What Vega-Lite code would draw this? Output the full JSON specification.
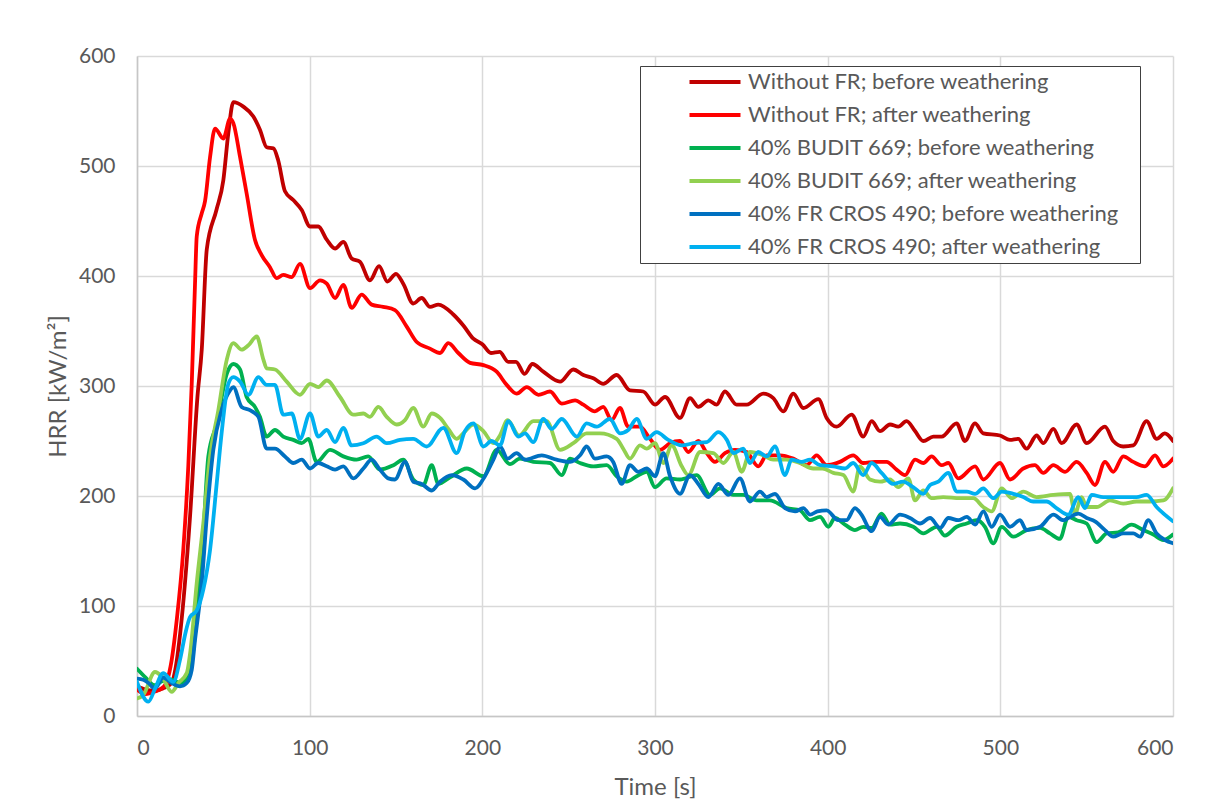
{
  "$schema": "https://vega.github.io/schema/vega-lite/v6.json",
  "width": 1036,
  "height": 660,
  "autosize": {"type": "none"},
  "padding": {"left": 137, "top": 56, "right": 33, "bottom": 88},
  "background": "white",
  "config": {
    "font": "Lato",
    "view": {"stroke": null},
    "axis": {
      "grid": true,
      "gridColor": "#d9d9d9",
      "gridWidth": 1.5,
      "domainColor": "#c6c6c6",
      "domainWidth": 1.5,
      "ticks": false,
      "tickSize": 0,
      "labelFont": "Lato",
      "labelFontSize": 21,
      "labelColor": "#595959",
      "titleFont": "Lato",
      "titleFontSize": 24,
      "titleFontWeight": "normal",
      "titleColor": "#595959"
    }
  },
  "data": {"values": [
    {"s":"Without FR; before weathering","t":0,"v":27},{"s":"Without FR; before weathering","t":5,"v":24},{"s":"Without FR; before weathering","t":10,"v":23},{"s":"Without FR; before weathering","t":15,"v":25},{"s":"Without FR; before weathering","t":20,"v":30},{"s":"Without FR; before weathering","t":22.5,"v":45},{"s":"Without FR; before weathering","t":25,"v":75},{"s":"Without FR; before weathering","t":30.7,"v":181},{"s":"Without FR; before weathering","t":35,"v":290},{"s":"Without FR; before weathering","t":37.5,"v":333},{"s":"Without FR; before weathering","t":40.4,"v":424},{"s":"Without FR; before weathering","t":46,"v":460},{"s":"Without FR; before weathering","t":50,"v":487},{"s":"Without FR; before weathering","t":52.9,"v":530},{"s":"Without FR; before weathering","t":55.8,"v":558},{"s":"Without FR; before weathering","t":61.6,"v":554},{"s":"Without FR; before weathering","t":67.4,"v":545},{"s":"Without FR; before weathering","t":71.2,"v":533},{"s":"Without FR; before weathering","t":75.1,"v":517},{"s":"Without FR; before weathering","t":79,"v":516},{"s":"Without FR; before weathering","t":81.8,"v":505},{"s":"Without FR; before weathering","t":85.7,"v":477},{"s":"Without FR; before weathering","t":90.5,"v":469},{"s":"Without FR; before weathering","t":95.4,"v":460},{"s":"Without FR; before weathering","t":100.2,"v":445},{"s":"Without FR; before weathering","t":105,"v":445},{"s":"Without FR; before weathering","t":109.9,"v":433},{"s":"Without FR; before weathering","t":114.7,"v":425},{"s":"Without FR; before weathering","t":119.5,"v":431},{"s":"Without FR; before weathering","t":124.3,"v":416},{"s":"Without FR; before weathering","t":129.1,"v":413},{"s":"Without FR; before weathering","t":134.9,"v":396},{"s":"Without FR; before weathering","t":140.2,"v":409},{"s":"Without FR; before weathering","t":145,"v":395},{"s":"Without FR; before weathering","t":150,"v":402},{"s":"Without FR; before weathering","t":154.2,"v":393},{"s":"Without FR; before weathering","t":160,"v":375},{"s":"Without FR; before weathering","t":164.9,"v":380},{"s":"Without FR; before weathering","t":169.7,"v":372},{"s":"Without FR; before weathering","t":174.5,"v":374},{"s":"Without FR; before weathering","t":183.2,"v":365},{"s":"Without FR; before weathering","t":189,"v":355},{"s":"Without FR; before weathering","t":194.8,"v":343},{"s":"Without FR; before weathering","t":200,"v":338},{"s":"Without FR; before weathering","t":205,"v":330},{"s":"Without FR; before weathering","t":210,"v":331},{"s":"Without FR; before weathering","t":215,"v":322},{"s":"Without FR; before weathering","t":219.5,"v":322},{"s":"Without FR; before weathering","t":224.5,"v":311},{"s":"Without FR; before weathering","t":229,"v":320},{"s":"Without FR; before weathering","t":235.3,"v":313},{"s":"Without FR; before weathering","t":245,"v":304},{"s":"Without FR; before weathering","t":252.7,"v":315},{"s":"Without FR; before weathering","t":258.5,"v":310},{"s":"Without FR; before weathering","t":264.3,"v":307},{"s":"Without FR; before weathering","t":270,"v":302},{"s":"Without FR; before weathering","t":277.8,"v":310},{"s":"Without FR; before weathering","t":285.5,"v":296},{"s":"Without FR; before weathering","t":293.2,"v":295},{"s":"Without FR; before weathering","t":300,"v":283},{"s":"Without FR; before weathering","t":305.8,"v":290},{"s":"Without FR; before weathering","t":314.5,"v":271},{"s":"Without FR; before weathering","t":320.3,"v":289},{"s":"Without FR; before weathering","t":325.1,"v":281},{"s":"Without FR; before weathering","t":330.9,"v":287},{"s":"Without FR; before weathering","t":335.7,"v":283},{"s":"Without FR; before weathering","t":340.5,"v":295},{"s":"Without FR; before weathering","t":347.3,"v":283},{"s":"Without FR; before weathering","t":353.1,"v":283},{"s":"Without FR; before weathering","t":362.7,"v":293},{"s":"Without FR; before weathering","t":368.5,"v":289},{"s":"Without FR; before weathering","t":374.3,"v":277},{"s":"Without FR; before weathering","t":380.1,"v":293},{"s":"Without FR; before weathering","t":385.9,"v":280},{"s":"Without FR; before weathering","t":394.6,"v":288},{"s":"Without FR; before weathering","t":399.4,"v":271},{"s":"Without FR; before weathering","t":405.2,"v":263},{"s":"Without FR; before weathering","t":413.9,"v":274},{"s":"Without FR; before weathering","t":420.6,"v":254},{"s":"Without FR; before weathering","t":425.5,"v":268},{"s":"Without FR; before weathering","t":430.3,"v":259},{"s":"Without FR; before weathering","t":436.1,"v":265},{"s":"Without FR; before weathering","t":440.9,"v":263},{"s":"Without FR; before weathering","t":445.7,"v":268},{"s":"Without FR; before weathering","t":450.6,"v":259},{"s":"Without FR; before weathering","t":455.4,"v":250},{"s":"Without FR; before weathering","t":461.2,"v":254},{"s":"Without FR; before weathering","t":466,"v":254},{"s":"Without FR; before weathering","t":474.7,"v":266},{"s":"Without FR; before weathering","t":479.5,"v":250},{"s":"Without FR; before weathering","t":485.3,"v":266},{"s":"Without FR; before weathering","t":490.1,"v":257},{"s":"Without FR; before weathering","t":499.8,"v":255},{"s":"Without FR; before weathering","t":505.6,"v":251},{"s":"Without FR; before weathering","t":510.4,"v":252},{"s":"Without FR; before weathering","t":515.2,"v":243},{"s":"Without FR; before weathering","t":521,"v":255},{"s":"Without FR; before weathering","t":524.9,"v":248},{"s":"Without FR; before weathering","t":530.7,"v":261},{"s":"Without FR; before weathering","t":535.5,"v":248},{"s":"Without FR; before weathering","t":544.2,"v":265},{"s":"Without FR; before weathering","t":550,"v":248},{"s":"Without FR; before weathering","t":560.6,"v":263},{"s":"Without FR; before weathering","t":565.4,"v":250},{"s":"Without FR; before weathering","t":571.2,"v":245},{"s":"Without FR; before weathering","t":577,"v":246},{"s":"Without FR; before weathering","t":584.7,"v":268},{"s":"Without FR; before weathering","t":590.5,"v":252},{"s":"Without FR; before weathering","t":595.3,"v":257},{"s":"Without FR; before weathering","t":600,"v":250},

    {"s":"Without FR; after weathering","t":0,"v":24},{"s":"Without FR; after weathering","t":5,"v":20},{"s":"Without FR; after weathering","t":10,"v":22},{"s":"Without FR; after weathering","t":15,"v":26},{"s":"Without FR; after weathering","t":17.2,"v":31},{"s":"Without FR; after weathering","t":20.1,"v":51},{"s":"Without FR; after weathering","t":23,"v":87},{"s":"Without FR; after weathering","t":26.8,"v":151},{"s":"Without FR; after weathering","t":29.7,"v":227},{"s":"Without FR; after weathering","t":31.7,"v":302},{"s":"Without FR; after weathering","t":33.6,"v":393},{"s":"Without FR; after weathering","t":34.6,"v":436},{"s":"Without FR; after weathering","t":37.5,"v":457},{"s":"Without FR; after weathering","t":39.4,"v":468},{"s":"Without FR; after weathering","t":42.3,"v":508},{"s":"Without FR; after weathering","t":45.2,"v":534},{"s":"Without FR; after weathering","t":50,"v":525},{"s":"Without FR; after weathering","t":53.9,"v":543},{"s":"Without FR; after weathering","t":55.8,"v":539},{"s":"Without FR; after weathering","t":59.7,"v":508},{"s":"Without FR; after weathering","t":63.5,"v":475},{"s":"Without FR; after weathering","t":68.3,"v":433},{"s":"Without FR; after weathering","t":72.2,"v":419},{"s":"Without FR; after weathering","t":77,"v":408},{"s":"Without FR; after weathering","t":80.9,"v":398},{"s":"Without FR; after weathering","t":84.7,"v":401},{"s":"Without FR; after weathering","t":89.6,"v":399},{"s":"Without FR; after weathering","t":94.4,"v":411},{"s":"Without FR; after weathering","t":100.2,"v":389},{"s":"Without FR; after weathering","t":106,"v":396},{"s":"Without FR; after weathering","t":109.9,"v":393},{"s":"Without FR; after weathering","t":114.7,"v":380},{"s":"Without FR; after weathering","t":119.5,"v":392},{"s":"Without FR; after weathering","t":124.3,"v":371},{"s":"Without FR; after weathering","t":130.1,"v":383},{"s":"Without FR; after weathering","t":135.9,"v":374},{"s":"Without FR; after weathering","t":142.6,"v":372},{"s":"Without FR; after weathering","t":149.4,"v":369},{"s":"Without FR; after weathering","t":156.2,"v":354},{"s":"Without FR; after weathering","t":162,"v":340},{"s":"Without FR; after weathering","t":169.7,"v":334},{"s":"Without FR; after weathering","t":175.5,"v":330},{"s":"Without FR; after weathering","t":180.3,"v":339},{"s":"Without FR; after weathering","t":186.1,"v":330},{"s":"Without FR; after weathering","t":192.9,"v":321},{"s":"Without FR; after weathering","t":200.6,"v":319},{"s":"Without FR; after weathering","t":208.3,"v":313},{"s":"Without FR; after weathering","t":214.1,"v":301},{"s":"Without FR; after weathering","t":219.9,"v":293},{"s":"Without FR; after weathering","t":225.7,"v":299},{"s":"Without FR; after weathering","t":232.5,"v":292},{"s":"Without FR; after weathering","t":239.2,"v":295},{"s":"Without FR; after weathering","t":246,"v":284},{"s":"Without FR; after weathering","t":253.7,"v":287},{"s":"Without FR; after weathering","t":258.5,"v":283},{"s":"Without FR; after weathering","t":265.2,"v":277},{"s":"Without FR; after weathering","t":270,"v":281},{"s":"Without FR; after weathering","t":274.9,"v":269},{"s":"Without FR; after weathering","t":279.7,"v":280},{"s":"Without FR; after weathering","t":284.5,"v":263},{"s":"Without FR; after weathering","t":291.3,"v":263},{"s":"Without FR; after weathering","t":297.1,"v":252},{"s":"Without FR; after weathering","t":302.9,"v":242},{"s":"Without FR; after weathering","t":308.7,"v":248},{"s":"Without FR; after weathering","t":314.5,"v":250},{"s":"Without FR; after weathering","t":319.3,"v":240},{"s":"Without FR; after weathering","t":325.1,"v":250},{"s":"Without FR; after weathering","t":330,"v":239},{"s":"Without FR; after weathering","t":334.7,"v":231},{"s":"Without FR; after weathering","t":340.5,"v":239},{"s":"Without FR; after weathering","t":346.3,"v":242},{"s":"Without FR; after weathering","t":353.1,"v":240},{"s":"Without FR; after weathering","t":359.8,"v":227},{"s":"Without FR; after weathering","t":364.7,"v":237},{"s":"Without FR; after weathering","t":372.4,"v":237},{"s":"Without FR; after weathering","t":380.1,"v":234},{"s":"Without FR; after weathering","t":387.8,"v":228},{"s":"Without FR; after weathering","t":393.6,"v":237},{"s":"Without FR; after weathering","t":399.4,"v":228},{"s":"Without FR; after weathering","t":407.1,"v":231},{"s":"Without FR; after weathering","t":414.8,"v":237},{"s":"Without FR; after weathering","t":420.6,"v":230},{"s":"Without FR; after weathering","t":427.4,"v":231},{"s":"Without FR; after weathering","t":434.1,"v":231},{"s":"Without FR; after weathering","t":439.9,"v":224},{"s":"Without FR; after weathering","t":444.8,"v":219},{"s":"Without FR; after weathering","t":450.6,"v":233},{"s":"Without FR; after weathering","t":455.4,"v":230},{"s":"Without FR; after weathering","t":460.2,"v":236},{"s":"Without FR; after weathering","t":466,"v":228},{"s":"Without FR; after weathering","t":469.9,"v":230},{"s":"Without FR; after weathering","t":475.7,"v":216},{"s":"Without FR; after weathering","t":485.4,"v":227},{"s":"Without FR; after weathering","t":490.1,"v":215},{"s":"Without FR; after weathering","t":499.8,"v":230},{"s":"Without FR; after weathering","t":505.6,"v":215},{"s":"Without FR; after weathering","t":513.3,"v":225},{"s":"Without FR; after weathering","t":520,"v":228},{"s":"Without FR; after weathering","t":524.9,"v":221},{"s":"Without FR; after weathering","t":530.7,"v":228},{"s":"Without FR; after weathering","t":537.5,"v":222},{"s":"Without FR; after weathering","t":544.2,"v":231},{"s":"Without FR; after weathering","t":550,"v":221},{"s":"Without FR; after weathering","t":554.8,"v":210},{"s":"Without FR; after weathering","t":560.6,"v":231},{"s":"Without FR; after weathering","t":565.4,"v":222},{"s":"Without FR; after weathering","t":571.2,"v":236},{"s":"Without FR; after weathering","t":577,"v":231},{"s":"Without FR; after weathering","t":583.8,"v":227},{"s":"Without FR; after weathering","t":589.6,"v":237},{"s":"Without FR; after weathering","t":594.4,"v":227},{"s":"Without FR; after weathering","t":600,"v":234},

    {"s":"40% BUDIT 669; before weathering","t":0,"v":43},{"s":"40% BUDIT 669; before weathering","t":5,"v":35},{"s":"40% BUDIT 669; before weathering","t":10,"v":28},{"s":"40% BUDIT 669; before weathering","t":15,"v":32},{"s":"40% BUDIT 669; before weathering","t":20,"v":33},{"s":"40% BUDIT 669; before weathering","t":25,"v":30},{"s":"40% BUDIT 669; before weathering","t":30,"v":36},{"s":"40% BUDIT 669; before weathering","t":34.6,"v":90},{"s":"40% BUDIT 669; before weathering","t":38.4,"v":166},{"s":"40% BUDIT 669; before weathering","t":41.3,"v":236},{"s":"40% BUDIT 669; before weathering","t":46.2,"v":266},{"s":"40% BUDIT 669; before weathering","t":52,"v":311},{"s":"40% BUDIT 669; before weathering","t":55.8,"v":320},{"s":"40% BUDIT 669; before weathering","t":59.7,"v":315},{"s":"40% BUDIT 669; before weathering","t":63.5,"v":290},{"s":"40% BUDIT 669; before weathering","t":68.3,"v":281},{"s":"40% BUDIT 669; before weathering","t":71.2,"v":272},{"s":"40% BUDIT 669; before weathering","t":75.1,"v":254},{"s":"40% BUDIT 669; before weathering","t":79.9,"v":260},{"s":"40% BUDIT 669; before weathering","t":84.7,"v":254},{"s":"40% BUDIT 669; before weathering","t":90.5,"v":251},{"s":"40% BUDIT 669; before weathering","t":95.4,"v":248},{"s":"40% BUDIT 669; before weathering","t":99.2,"v":252},{"s":"40% BUDIT 669; before weathering","t":104.1,"v":231},{"s":"40% BUDIT 669; before weathering","t":111.8,"v":242},{"s":"40% BUDIT 669; before weathering","t":119.5,"v":236},{"s":"40% BUDIT 669; before weathering","t":127.2,"v":233},{"s":"40% BUDIT 669; before weathering","t":133.9,"v":236},{"s":"40% BUDIT 669; before weathering","t":140.7,"v":224},{"s":"40% BUDIT 669; before weathering","t":148.5,"v":228},{"s":"40% BUDIT 669; before weathering","t":154.2,"v":233},{"s":"40% BUDIT 669; before weathering","t":160,"v":215},{"s":"40% BUDIT 669; before weathering","t":165.8,"v":210},{"s":"40% BUDIT 669; before weathering","t":170.7,"v":228},{"s":"40% BUDIT 669; before weathering","t":174.5,"v":211},{"s":"40% BUDIT 669; before weathering","t":181.3,"v":217},{"s":"40% BUDIT 669; before weathering","t":191,"v":225},{"s":"40% BUDIT 669; before weathering","t":200.6,"v":218},{"s":"40% BUDIT 669; before weathering","t":208.3,"v":242},{"s":"40% BUDIT 669; before weathering","t":216,"v":229},{"s":"40% BUDIT 669; before weathering","t":221.8,"v":234},{"s":"40% BUDIT 669; before weathering","t":229.5,"v":231},{"s":"40% BUDIT 669; before weathering","t":239.2,"v":230},{"s":"40% BUDIT 669; before weathering","t":246,"v":219},{"s":"40% BUDIT 669; before weathering","t":250.8,"v":234},{"s":"40% BUDIT 669; before weathering","t":256.6,"v":230},{"s":"40% BUDIT 669; before weathering","t":264.3,"v":227},{"s":"40% BUDIT 669; before weathering","t":272,"v":228},{"s":"40% BUDIT 669; before weathering","t":277.8,"v":218},{"s":"40% BUDIT 669; before weathering","t":283.6,"v":213},{"s":"40% BUDIT 669; before weathering","t":289.4,"v":218},{"s":"40% BUDIT 669; before weathering","t":295.2,"v":222},{"s":"40% BUDIT 669; before weathering","t":300,"v":208},{"s":"40% BUDIT 669; before weathering","t":306.7,"v":216},{"s":"40% BUDIT 669; before weathering","t":314.5,"v":215},{"s":"40% BUDIT 669; before weathering","t":324.1,"v":219},{"s":"40% BUDIT 669; before weathering","t":331.8,"v":201},{"s":"40% BUDIT 669; before weathering","t":337.6,"v":207},{"s":"40% BUDIT 669; before weathering","t":345.3,"v":201},{"s":"40% BUDIT 669; before weathering","t":351.1,"v":201},{"s":"40% BUDIT 669; before weathering","t":358.8,"v":196},{"s":"40% BUDIT 669; before weathering","t":366.5,"v":196},{"s":"40% BUDIT 669; before weathering","t":376.2,"v":189},{"s":"40% BUDIT 669; before weathering","t":383.9,"v":187},{"s":"40% BUDIT 669; before weathering","t":389.8,"v":178},{"s":"40% BUDIT 669; before weathering","t":395.6,"v":181},{"s":"40% BUDIT 669; before weathering","t":400.4,"v":172},{"s":"40% BUDIT 669; before weathering","t":404.2,"v":180},{"s":"40% BUDIT 669; before weathering","t":410,"v":174},{"s":"40% BUDIT 669; before weathering","t":415.8,"v":169},{"s":"40% BUDIT 669; before weathering","t":420.6,"v":172},{"s":"40% BUDIT 669; before weathering","t":425.5,"v":171},{"s":"40% BUDIT 669; before weathering","t":431.2,"v":184},{"s":"40% BUDIT 669; before weathering","t":436.1,"v":174},{"s":"40% BUDIT 669; before weathering","t":441.9,"v":175},{"s":"40% BUDIT 669; before weathering","t":449.6,"v":172},{"s":"40% BUDIT 669; before weathering","t":455.4,"v":166},{"s":"40% BUDIT 669; before weathering","t":463.1,"v":172},{"s":"40% BUDIT 669; before weathering","t":467.9,"v":164},{"s":"40% BUDIT 669; before weathering","t":474.7,"v":172},{"s":"40% BUDIT 669; before weathering","t":480.5,"v":175},{"s":"40% BUDIT 669; before weathering","t":486.3,"v":178},{"s":"40% BUDIT 669; before weathering","t":491.1,"v":172},{"s":"40% BUDIT 669; before weathering","t":495.9,"v":157},{"s":"40% BUDIT 669; before weathering","t":500.8,"v":172},{"s":"40% BUDIT 669; before weathering","t":507.5,"v":163},{"s":"40% BUDIT 669; before weathering","t":515.2,"v":169},{"s":"40% BUDIT 669; before weathering","t":523,"v":171},{"s":"40% BUDIT 669; before weathering","t":528.7,"v":166},{"s":"40% BUDIT 669; before weathering","t":534.5,"v":161},{"s":"40% BUDIT 669; before weathering","t":539.3,"v":181},{"s":"40% BUDIT 669; before weathering","t":544.2,"v":178},{"s":"40% BUDIT 669; before weathering","t":550,"v":175},{"s":"40% BUDIT 669; before weathering","t":555.8,"v":158},{"s":"40% BUDIT 669; before weathering","t":561.6,"v":166},{"s":"40% BUDIT 669; before weathering","t":568.3,"v":167},{"s":"40% BUDIT 669; before weathering","t":576,"v":174},{"s":"40% BUDIT 669; before weathering","t":582.8,"v":169},{"s":"40% BUDIT 669; before weathering","t":588.6,"v":165},{"s":"40% BUDIT 669; before weathering","t":594.4,"v":160},{"s":"40% BUDIT 669; before weathering","t":600,"v":165},

    {"s":"40% BUDIT 669; after weathering","t":0,"v":16},{"s":"40% BUDIT 669; after weathering","t":3.6,"v":19},{"s":"40% BUDIT 669; after weathering","t":10.4,"v":40},{"s":"40% BUDIT 669; after weathering","t":14.3,"v":36},{"s":"40% BUDIT 669; after weathering","t":20.1,"v":22},{"s":"40% BUDIT 669; after weathering","t":24,"v":30},{"s":"40% BUDIT 669; after weathering","t":28.8,"v":39},{"s":"40% BUDIT 669; after weathering","t":31,"v":60},{"s":"40% BUDIT 669; after weathering","t":34.6,"v":121},{"s":"40% BUDIT 669; after weathering","t":38.4,"v":175},{"s":"40% BUDIT 669; after weathering","t":42.3,"v":236},{"s":"40% BUDIT 669; after weathering","t":47.1,"v":278},{"s":"40% BUDIT 669; after weathering","t":52,"v":324},{"s":"40% BUDIT 669; after weathering","t":55.8,"v":339},{"s":"40% BUDIT 669; after weathering","t":60.6,"v":333},{"s":"40% BUDIT 669; after weathering","t":64.5,"v":337},{"s":"40% BUDIT 669; after weathering","t":69.3,"v":345},{"s":"40% BUDIT 669; after weathering","t":73.2,"v":324},{"s":"40% BUDIT 669; after weathering","t":75.1,"v":316},{"s":"40% BUDIT 669; after weathering","t":79.9,"v":315},{"s":"40% BUDIT 669; after weathering","t":86.7,"v":304},{"s":"40% BUDIT 669; after weathering","t":94.4,"v":292},{"s":"40% BUDIT 669; after weathering","t":100.2,"v":302},{"s":"40% BUDIT 669; after weathering","t":105,"v":299},{"s":"40% BUDIT 669; after weathering","t":109.9,"v":305},{"s":"40% BUDIT 669; after weathering","t":117.6,"v":290},{"s":"40% BUDIT 669; after weathering","t":125.3,"v":274},{"s":"40% BUDIT 669; after weathering","t":131.1,"v":275},{"s":"40% BUDIT 669; after weathering","t":134.9,"v":272},{"s":"40% BUDIT 669; after weathering","t":139.8,"v":281},{"s":"40% BUDIT 669; after weathering","t":144.6,"v":272},{"s":"40% BUDIT 669; after weathering","t":150.4,"v":265},{"s":"40% BUDIT 669; after weathering","t":155.2,"v":269},{"s":"40% BUDIT 669; after weathering","t":160,"v":280},{"s":"40% BUDIT 669; after weathering","t":165.8,"v":263},{"s":"40% BUDIT 669; after weathering","t":170.7,"v":275},{"s":"40% BUDIT 669; after weathering","t":175.5,"v":271},{"s":"40% BUDIT 669; after weathering","t":180.3,"v":261},{"s":"40% BUDIT 669; after weathering","t":185.1,"v":252},{"s":"40% BUDIT 669; after weathering","t":189,"v":257},{"s":"40% BUDIT 669; after weathering","t":194.8,"v":265},{"s":"40% BUDIT 669; after weathering","t":200.6,"v":259},{"s":"40% BUDIT 669; after weathering","t":206.4,"v":248},{"s":"40% BUDIT 669; after weathering","t":210.2,"v":255},{"s":"40% BUDIT 669; after weathering","t":214.6,"v":269},{"s":"40% BUDIT 669; after weathering","t":221.3,"v":255},{"s":"40% BUDIT 669; after weathering","t":229.5,"v":268},{"s":"40% BUDIT 669; after weathering","t":237.3,"v":268},{"s":"40% BUDIT 669; after weathering","t":245,"v":242},{"s":"40% BUDIT 669; after weathering","t":252.7,"v":248},{"s":"40% BUDIT 669; after weathering","t":260.4,"v":257},{"s":"40% BUDIT 669; after weathering","t":268.1,"v":257},{"s":"40% BUDIT 669; after weathering","t":277.8,"v":252},{"s":"40% BUDIT 669; after weathering","t":281.6,"v":243},{"s":"40% BUDIT 669; after weathering","t":285.5,"v":234},{"s":"40% BUDIT 669; after weathering","t":291.3,"v":246},{"s":"40% BUDIT 669; after weathering","t":295.2,"v":243},{"s":"40% BUDIT 669; after weathering","t":300,"v":248},{"s":"40% BUDIT 669; after weathering","t":304.8,"v":230},{"s":"40% BUDIT 669; after weathering","t":309.7,"v":246},{"s":"40% BUDIT 669; after weathering","t":315.5,"v":227},{"s":"40% BUDIT 669; after weathering","t":319.3,"v":219},{"s":"40% BUDIT 669; after weathering","t":326.1,"v":240},{"s":"40% BUDIT 669; after weathering","t":333.8,"v":239},{"s":"40% BUDIT 669; after weathering","t":339.6,"v":230},{"s":"40% BUDIT 669; after weathering","t":345.4,"v":240},{"s":"40% BUDIT 669; after weathering","t":350.2,"v":222},{"s":"40% BUDIT 669; after weathering","t":355,"v":240},{"s":"40% BUDIT 669; after weathering","t":362.7,"v":237},{"s":"40% BUDIT 669; after weathering","t":368.5,"v":233},{"s":"40% BUDIT 669; after weathering","t":376.2,"v":233},{"s":"40% BUDIT 669; after weathering","t":383.9,"v":230},{"s":"40% BUDIT 669; after weathering","t":391.6,"v":225},{"s":"40% BUDIT 669; after weathering","t":397,"v":225},{"s":"40% BUDIT 669; after weathering","t":403.3,"v":221},{"s":"40% BUDIT 669; after weathering","t":409.1,"v":219},{"s":"40% BUDIT 669; after weathering","t":414.8,"v":204},{"s":"40% BUDIT 669; after weathering","t":418.7,"v":227},{"s":"40% BUDIT 669; after weathering","t":424.5,"v":215},{"s":"40% BUDIT 669; after weathering","t":430.3,"v":213},{"s":"40% BUDIT 669; after weathering","t":436.1,"v":215},{"s":"40% BUDIT 669; after weathering","t":440.9,"v":208},{"s":"40% BUDIT 669; after weathering","t":446.7,"v":216},{"s":"40% BUDIT 669; after weathering","t":450.6,"v":196},{"s":"40% BUDIT 669; after weathering","t":455.4,"v":205},{"s":"40% BUDIT 669; after weathering","t":460.2,"v":198},{"s":"40% BUDIT 669; after weathering","t":466.9,"v":199},{"s":"40% BUDIT 669; after weathering","t":476.6,"v":198},{"s":"40% BUDIT 669; after weathering","t":484.3,"v":198},{"s":"40% BUDIT 669; after weathering","t":490.1,"v":190},{"s":"40% BUDIT 669; after weathering","t":495,"v":186},{"s":"40% BUDIT 669; after weathering","t":500.8,"v":207},{"s":"40% BUDIT 669; after weathering","t":506.6,"v":198},{"s":"40% BUDIT 669; after weathering","t":513.3,"v":204},{"s":"40% BUDIT 669; after weathering","t":521,"v":199},{"s":"40% BUDIT 669; after weathering","t":530.7,"v":201},{"s":"40% BUDIT 669; after weathering","t":540.3,"v":202},{"s":"40% BUDIT 669; after weathering","t":543.2,"v":184},{"s":"40% BUDIT 669; after weathering","t":547.1,"v":199},{"s":"40% BUDIT 669; after weathering","t":550,"v":190},{"s":"40% BUDIT 669; after weathering","t":555.8,"v":190},{"s":"40% BUDIT 669; after weathering","t":563.5,"v":196},{"s":"40% BUDIT 669; after weathering","t":571.2,"v":193},{"s":"40% BUDIT 669; after weathering","t":578.9,"v":195},{"s":"40% BUDIT 669; after weathering","t":586.6,"v":195},{"s":"40% BUDIT 669; after weathering","t":594.4,"v":196},{"s":"40% BUDIT 669; after weathering","t":600,"v":207},

    {"s":"40% FR CROS 490; before weathering","t":0,"v":34},{"s":"40% FR CROS 490; before weathering","t":3.6,"v":33},{"s":"40% FR CROS 490; before weathering","t":6.6,"v":30},{"s":"40% FR CROS 490; before weathering","t":10.4,"v":25},{"s":"40% FR CROS 490; before weathering","t":15.2,"v":35},{"s":"40% FR CROS 490; before weathering","t":20.1,"v":30},{"s":"40% FR CROS 490; before weathering","t":24.9,"v":27},{"s":"40% FR CROS 490; before weathering","t":28.8,"v":30},{"s":"40% FR CROS 490; before weathering","t":31.7,"v":42},{"s":"40% FR CROS 490; before weathering","t":33.6,"v":69},{"s":"40% FR CROS 490; before weathering","t":37.5,"v":121},{"s":"40% FR CROS 490; before weathering","t":40.4,"v":181},{"s":"40% FR CROS 490; before weathering","t":44.2,"v":242},{"s":"40% FR CROS 490; before weathering","t":49,"v":278},{"s":"40% FR CROS 490; before weathering","t":53.9,"v":296},{"s":"40% FR CROS 490; before weathering","t":55.8,"v":299},{"s":"40% FR CROS 490; before weathering","t":60.6,"v":281},{"s":"40% FR CROS 490; before weathering","t":65.4,"v":278},{"s":"40% FR CROS 490; before weathering","t":70.3,"v":272},{"s":"40% FR CROS 490; before weathering","t":75.1,"v":243},{"s":"40% FR CROS 490; before weathering","t":79.9,"v":243},{"s":"40% FR CROS 490; before weathering","t":85.7,"v":236},{"s":"40% FR CROS 490; before weathering","t":90.5,"v":230},{"s":"40% FR CROS 490; before weathering","t":95.4,"v":233},{"s":"40% FR CROS 490; before weathering","t":100.2,"v":225},{"s":"40% FR CROS 490; before weathering","t":105,"v":230},{"s":"40% FR CROS 490; before weathering","t":109.9,"v":227},{"s":"40% FR CROS 490; before weathering","t":114.7,"v":224},{"s":"40% FR CROS 490; before weathering","t":119.5,"v":227},{"s":"40% FR CROS 490; before weathering","t":125.3,"v":216},{"s":"40% FR CROS 490; before weathering","t":131.1,"v":225},{"s":"40% FR CROS 490; before weathering","t":135.9,"v":233},{"s":"40% FR CROS 490; before weathering","t":140.7,"v":224},{"s":"40% FR CROS 490; before weathering","t":145.5,"v":216},{"s":"40% FR CROS 490; before weathering","t":149.4,"v":215},{"s":"40% FR CROS 490; before weathering","t":155.2,"v":231},{"s":"40% FR CROS 490; before weathering","t":160,"v":213},{"s":"40% FR CROS 490; before weathering","t":164.9,"v":211},{"s":"40% FR CROS 490; before weathering","t":170.7,"v":205},{"s":"40% FR CROS 490; before weathering","t":175.5,"v":213},{"s":"40% FR CROS 490; before weathering","t":182.3,"v":219},{"s":"40% FR CROS 490; before weathering","t":189,"v":215},{"s":"40% FR CROS 490; before weathering","t":195.8,"v":207},{"s":"40% FR CROS 490; before weathering","t":201.5,"v":218},{"s":"40% FR CROS 490; before weathering","t":206.4,"v":233},{"s":"40% FR CROS 490; before weathering","t":210.2,"v":245},{"s":"40% FR CROS 490; before weathering","t":214.6,"v":234},{"s":"40% FR CROS 490; before weathering","t":219.9,"v":239},{"s":"40% FR CROS 490; before weathering","t":224.7,"v":233},{"s":"40% FR CROS 490; before weathering","t":234.4,"v":237},{"s":"40% FR CROS 490; before weathering","t":243,"v":233},{"s":"40% FR CROS 490; before weathering","t":250.8,"v":231},{"s":"40% FR CROS 490; before weathering","t":256.6,"v":237},{"s":"40% FR CROS 490; before weathering","t":260.4,"v":245},{"s":"40% FR CROS 490; before weathering","t":265.2,"v":234},{"s":"40% FR CROS 490; before weathering","t":272,"v":236},{"s":"40% FR CROS 490; before weathering","t":275.8,"v":231},{"s":"40% FR CROS 490; before weathering","t":280.7,"v":211},{"s":"40% FR CROS 490; before weathering","t":285.5,"v":228},{"s":"40% FR CROS 490; before weathering","t":290.3,"v":222},{"s":"40% FR CROS 490; before weathering","t":295.2,"v":225},{"s":"40% FR CROS 490; before weathering","t":300,"v":218},{"s":"40% FR CROS 490; before weathering","t":304.8,"v":239},{"s":"40% FR CROS 490; before weathering","t":308.7,"v":218},{"s":"40% FR CROS 490; before weathering","t":314.5,"v":202},{"s":"40% FR CROS 490; before weathering","t":320.3,"v":219},{"s":"40% FR CROS 490; before weathering","t":325.1,"v":211},{"s":"40% FR CROS 490; before weathering","t":330.9,"v":199},{"s":"40% FR CROS 490; before weathering","t":336.7,"v":211},{"s":"40% FR CROS 490; before weathering","t":342.5,"v":201},{"s":"40% FR CROS 490; before weathering","t":349.2,"v":216},{"s":"40% FR CROS 490; before weathering","t":355,"v":195},{"s":"40% FR CROS 490; before weathering","t":360.8,"v":204},{"s":"40% FR CROS 490; before weathering","t":364.7,"v":199},{"s":"40% FR CROS 490; before weathering","t":369.5,"v":202},{"s":"40% FR CROS 490; before weathering","t":375.3,"v":189},{"s":"40% FR CROS 490; before weathering","t":381.1,"v":186},{"s":"40% FR CROS 490; before weathering","t":385.9,"v":189},{"s":"40% FR CROS 490; before weathering","t":389.8,"v":183},{"s":"40% FR CROS 490; before weathering","t":394,"v":186},{"s":"40% FR CROS 490; before weathering","t":399.4,"v":187},{"s":"40% FR CROS 490; before weathering","t":406.1,"v":178},{"s":"40% FR CROS 490; before weathering","t":410.9,"v":178},{"s":"40% FR CROS 490; before weathering","t":415.8,"v":189},{"s":"40% FR CROS 490; before weathering","t":419.6,"v":183},{"s":"40% FR CROS 490; before weathering","t":425.5,"v":168},{"s":"40% FR CROS 490; before weathering","t":430.3,"v":181},{"s":"40% FR CROS 490; before weathering","t":435.1,"v":174},{"s":"40% FR CROS 490; before weathering","t":441.9,"v":183},{"s":"40% FR CROS 490; before weathering","t":447.7,"v":180},{"s":"40% FR CROS 490; before weathering","t":453.5,"v":175},{"s":"40% FR CROS 490; before weathering","t":459.3,"v":180},{"s":"40% FR CROS 490; before weathering","t":465.1,"v":171},{"s":"40% FR CROS 490; before weathering","t":469.9,"v":180},{"s":"40% FR CROS 490; before weathering","t":475.7,"v":178},{"s":"40% FR CROS 490; before weathering","t":480.6,"v":181},{"s":"40% FR CROS 490; before weathering","t":485.4,"v":174},{"s":"40% FR CROS 490; before weathering","t":490.2,"v":186},{"s":"40% FR CROS 490; before weathering","t":495,"v":172},{"s":"40% FR CROS 490; before weathering","t":499.8,"v":183},{"s":"40% FR CROS 490; before weathering","t":505.6,"v":172},{"s":"40% FR CROS 490; before weathering","t":511.4,"v":178},{"s":"40% FR CROS 490; before weathering","t":515.2,"v":169},{"s":"40% FR CROS 490; before weathering","t":523,"v":172},{"s":"40% FR CROS 490; before weathering","t":530.7,"v":183},{"s":"40% FR CROS 490; before weathering","t":536.5,"v":178},{"s":"40% FR CROS 490; before weathering","t":540.3,"v":181},{"s":"40% FR CROS 490; before weathering","t":545.2,"v":184},{"s":"40% FR CROS 490; before weathering","t":550,"v":180},{"s":"40% FR CROS 490; before weathering","t":554.8,"v":177},{"s":"40% FR CROS 490; before weathering","t":560.6,"v":169},{"s":"40% FR CROS 490; before weathering","t":565.4,"v":163},{"s":"40% FR CROS 490; before weathering","t":571.2,"v":166},{"s":"40% FR CROS 490; before weathering","t":577,"v":166},{"s":"40% FR CROS 490; before weathering","t":580.9,"v":163},{"s":"40% FR CROS 490; before weathering","t":585.7,"v":178},{"s":"40% FR CROS 490; before weathering","t":590.5,"v":166},{"s":"40% FR CROS 490; before weathering","t":595.3,"v":160},{"s":"40% FR CROS 490; before weathering","t":600,"v":157},

    {"s":"40% FR CROS 490; after weathering","t":0,"v":31},{"s":"40% FR CROS 490; after weathering","t":6.6,"v":13},{"s":"40% FR CROS 490; after weathering","t":10.5,"v":25},{"s":"40% FR CROS 490; after weathering","t":15.2,"v":39},{"s":"40% FR CROS 490; after weathering","t":21,"v":31},{"s":"40% FR CROS 490; after weathering","t":24.9,"v":51},{"s":"40% FR CROS 490; after weathering","t":28,"v":75},{"s":"40% FR CROS 490; after weathering","t":30.7,"v":90},{"s":"40% FR CROS 490; after weathering","t":34.6,"v":96},{"s":"40% FR CROS 490; after weathering","t":38.4,"v":115},{"s":"40% FR CROS 490; after weathering","t":42.3,"v":151},{"s":"40% FR CROS 490; after weathering","t":46.2,"v":212},{"s":"40% FR CROS 490; after weathering","t":49,"v":257},{"s":"40% FR CROS 490; after weathering","t":52.9,"v":302},{"s":"40% FR CROS 490; after weathering","t":55.8,"v":308},{"s":"40% FR CROS 490; after weathering","t":59.7,"v":304},{"s":"40% FR CROS 490; after weathering","t":64.5,"v":292},{"s":"40% FR CROS 490; after weathering","t":70.3,"v":308},{"s":"40% FR CROS 490; after weathering","t":75.1,"v":301},{"s":"40% FR CROS 490; after weathering","t":79.9,"v":301},{"s":"40% FR CROS 490; after weathering","t":84.7,"v":274},{"s":"40% FR CROS 490; after weathering","t":89.6,"v":275},{"s":"40% FR CROS 490; after weathering","t":94.4,"v":252},{"s":"40% FR CROS 490; after weathering","t":100.2,"v":275},{"s":"40% FR CROS 490; after weathering","t":105,"v":254},{"s":"40% FR CROS 490; after weathering","t":109.9,"v":260},{"s":"40% FR CROS 490; after weathering","t":114.7,"v":249},{"s":"40% FR CROS 490; after weathering","t":119.5,"v":262},{"s":"40% FR CROS 490; after weathering","t":124.3,"v":246},{"s":"40% FR CROS 490; after weathering","t":131.1,"v":248},{"s":"40% FR CROS 490; after weathering","t":138.8,"v":254},{"s":"40% FR CROS 490; after weathering","t":144.6,"v":248},{"s":"40% FR CROS 490; after weathering","t":152.3,"v":251},{"s":"40% FR CROS 490; after weathering","t":160,"v":252},{"s":"40% FR CROS 490; after weathering","t":167.8,"v":245},{"s":"40% FR CROS 490; after weathering","t":177.4,"v":262},{"s":"40% FR CROS 490; after weathering","t":185.1,"v":239},{"s":"40% FR CROS 490; after weathering","t":189.9,"v":259},{"s":"40% FR CROS 490; after weathering","t":194.8,"v":266},{"s":"40% FR CROS 490; after weathering","t":200.6,"v":245},{"s":"40% FR CROS 490; after weathering","t":205.4,"v":250},{"s":"40% FR CROS 490; after weathering","t":210.2,"v":246},{"s":"40% FR CROS 490; after weathering","t":215.1,"v":268},{"s":"40% FR CROS 490; after weathering","t":220.9,"v":254},{"s":"40% FR CROS 490; after weathering","t":224.7,"v":257},{"s":"40% FR CROS 490; after weathering","t":229.5,"v":249},{"s":"40% FR CROS 490; after weathering","t":235.3,"v":270},{"s":"40% FR CROS 490; after weathering","t":240.2,"v":261},{"s":"40% FR CROS 490; after weathering","t":246,"v":270},{"s":"40% FR CROS 490; after weathering","t":254.7,"v":254},{"s":"40% FR CROS 490; after weathering","t":260.4,"v":266},{"s":"40% FR CROS 490; after weathering","t":266.2,"v":263},{"s":"40% FR CROS 490; after weathering","t":273.9,"v":270},{"s":"40% FR CROS 490; after weathering","t":279.7,"v":257},{"s":"40% FR CROS 490; after weathering","t":284.5,"v":260},{"s":"40% FR CROS 490; after weathering","t":289.4,"v":270},{"s":"40% FR CROS 490; after weathering","t":295.2,"v":252},{"s":"40% FR CROS 490; after weathering","t":300.9,"v":258},{"s":"40% FR CROS 490; after weathering","t":307.7,"v":251},{"s":"40% FR CROS 490; after weathering","t":315.5,"v":246},{"s":"40% FR CROS 490; after weathering","t":322.2,"v":248},{"s":"40% FR CROS 490; after weathering","t":330,"v":249},{"s":"40% FR CROS 490; after weathering","t":336.7,"v":258},{"s":"40% FR CROS 490; after weathering","t":341.6,"v":251},{"s":"40% FR CROS 490; after weathering","t":345.4,"v":239},{"s":"40% FR CROS 490; after weathering","t":351.1,"v":243},{"s":"40% FR CROS 490; after weathering","t":355,"v":230},{"s":"40% FR CROS 490; after weathering","t":359.8,"v":240},{"s":"40% FR CROS 490; after weathering","t":364.7,"v":236},{"s":"40% FR CROS 490; after weathering","t":369.5,"v":245},{"s":"40% FR CROS 490; after weathering","t":375.3,"v":219},{"s":"40% FR CROS 490; after weathering","t":379.1,"v":233},{"s":"40% FR CROS 490; after weathering","t":384.9,"v":231},{"s":"40% FR CROS 490; after weathering","t":389.8,"v":233},{"s":"40% FR CROS 490; after weathering","t":395.6,"v":228},{"s":"40% FR CROS 490; after weathering","t":403.3,"v":227},{"s":"40% FR CROS 490; after weathering","t":410,"v":225},{"s":"40% FR CROS 490; after weathering","t":414.8,"v":230},{"s":"40% FR CROS 490; after weathering","t":420.6,"v":219},{"s":"40% FR CROS 490; after weathering","t":425.5,"v":230},{"s":"40% FR CROS 490; after weathering","t":431.2,"v":221},{"s":"40% FR CROS 490; after weathering","t":437.9,"v":211},{"s":"40% FR CROS 490; after weathering","t":443.7,"v":213},{"s":"40% FR CROS 490; after weathering","t":449.5,"v":208},{"s":"40% FR CROS 490; after weathering","t":455.4,"v":202},{"s":"40% FR CROS 490; after weathering","t":459.3,"v":210},{"s":"40% FR CROS 490; after weathering","t":464.1,"v":213},{"s":"40% FR CROS 490; after weathering","t":469.9,"v":221},{"s":"40% FR CROS 490; after weathering","t":474.7,"v":204},{"s":"40% FR CROS 490; after weathering","t":480.6,"v":204},{"s":"40% FR CROS 490; after weathering","t":485.4,"v":202},{"s":"40% FR CROS 490; after weathering","t":490.1,"v":207},{"s":"40% FR CROS 490; after weathering","t":495.9,"v":198},{"s":"40% FR CROS 490; after weathering","t":500.8,"v":204},{"s":"40% FR CROS 490; after weathering","t":507.5,"v":202},{"s":"40% FR CROS 490; after weathering","t":513.3,"v":199},{"s":"40% FR CROS 490; after weathering","t":519,"v":195},{"s":"40% FR CROS 490; after weathering","t":526.8,"v":195},{"s":"40% FR CROS 490; after weathering","t":532.5,"v":189},{"s":"40% FR CROS 490; after weathering","t":539.3,"v":183},{"s":"40% FR CROS 490; after weathering","t":545.2,"v":199},{"s":"40% FR CROS 490; after weathering","t":549,"v":189},{"s":"40% FR CROS 490; after weathering","t":552.9,"v":201},{"s":"40% FR CROS 490; after weathering","t":559.6,"v":199},{"s":"40% FR CROS 490; after weathering","t":569.3,"v":199},{"s":"40% FR CROS 490; after weathering","t":578.9,"v":199},{"s":"40% FR CROS 490; after weathering","t":584.7,"v":201},{"s":"40% FR CROS 490; after weathering","t":590.5,"v":190},{"s":"40% FR CROS 490; after weathering","t":600,"v":177}
  ]},
  "mark": {"type": "line", "interpolate": "monotone", "strokeWidth": 3.8, "strokeCap": "round", "strokeJoin": "round", "clip": true},
  "encoding": {
    "x": {
      "field": "t",
      "type": "quantitative",
      "scale": {"domain": [0, 600], "nice": false, "zero": false},
      "axis": {"title": "Time [s]", "values": [0, 100, 200, 300, 400, 500, 600], "labelPadding": 21, "titleY": 78, "titleBaseline": "alphabetic"}
    },
    "y": {
      "field": "v",
      "type": "quantitative",
      "scale": {"domain": [0, 600], "nice": false},
      "axis": {"title": "HRR [kW/m²]", "values": [0, 100, 200, 300, 400, 500, 600], "labelPadding": 22, "titleX": -72, "titleY": 330, "titleBaseline": "alphabetic"}
    },
    "color": {
      "field": "s",
      "type": "nominal",
      "sort": null,
      "scale": {
        "domain": ["Without FR; before weathering", "Without FR; after weathering", "40% BUDIT 669; before weathering", "40% BUDIT 669; after weathering", "40% FR CROS 490; before weathering", "40% FR CROS 490; after weathering"],
        "range": ["#c00000", "#ff0000", "#00b050", "#92d050", "#0070c0", "#00b0f0"]
      },
      "legend": {
        "title": "\u00a0",
        "titleOrient": "right",
        "titleFontSize": 4,
        "titlePadding": 16,
        "orient": "none",
        "legendX": 503,
        "legendY": 10,
        "symbolType": "M-3,0H3",
        "symbolSize": 289,
        "symbolStrokeWidth": 4,
        "labelFont": "Lato",
        "labelFontSize": 22,
        "labelColor": "#595959",
        "labelLimit": 600,
        "labelOffset": 22,
        "symbolOffset": 59,
        "rowPadding": 11,
        "padding": 5,
        "strokeColor": "#404040",
        "fillColor": "white"
      }
    }
  }
}
